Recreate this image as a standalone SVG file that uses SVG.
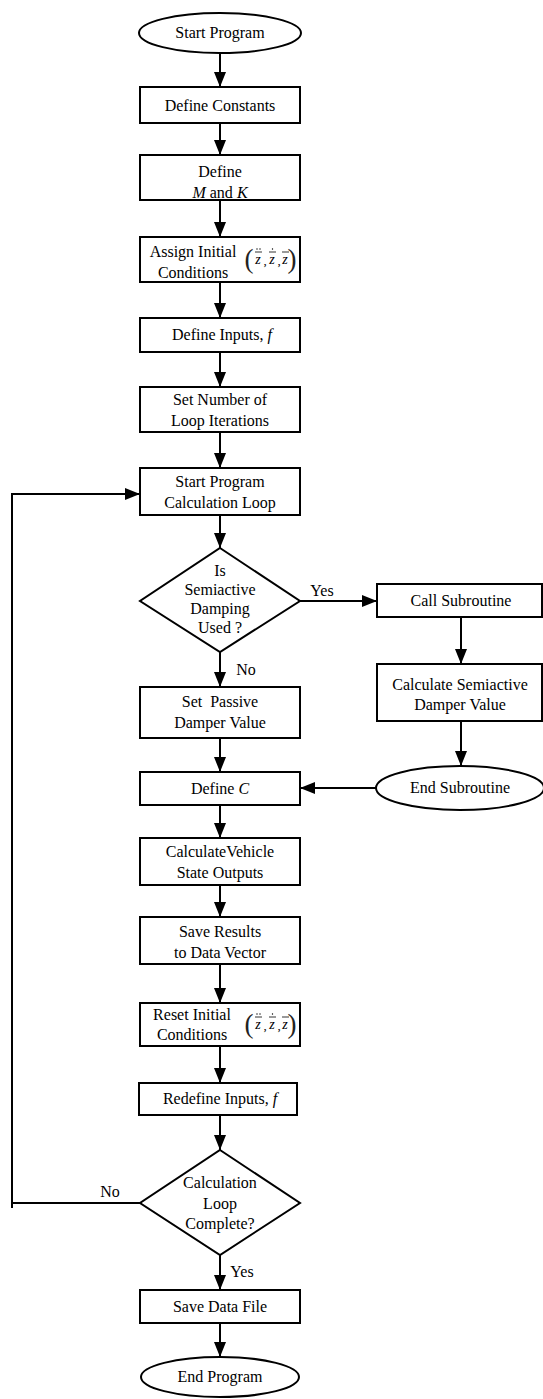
<svg xmlns="http://www.w3.org/2000/svg" width="543" height="1399" viewBox="0 0 543 1399">
<style>
text{font-family:"Liberation Serif","Times New Roman",serif;font-size:16px;fill:#000;text-anchor:middle}
.s{fill:#fff;stroke:#000;stroke-width:2}
.c{fill:none;stroke:#000;stroke-width:2}
.i{font-style:italic}
.z{font-style:italic;font-size:14px}
.p{font-size:27px;fill:#222}
.m{fill:none;stroke:#000;stroke-width:0.8}
</style>
<defs>
<marker id="a" markerUnits="userSpaceOnUse" markerWidth="15" markerHeight="12" refX="15" refY="6" orient="auto"><path d="M0,0 L15,6 L0,12 z" fill="#000"/></marker>
<g id="zf">
<text x="-21" y="9" class="p">(</text>
<text x="-12" y="5" class="z">z</text>
<text x="-5" y="6" style="font-size:13px">,</text>
<text x="2" y="5" class="z">z</text>
<text x="9" y="6" style="font-size:13px">,</text>
<text x="15" y="5" class="z">z</text>
<text x="22" y="9" class="p">)</text>
<path class="m" d="M-15,-7 h7 M-1,-7 h7 M12,-7 h7"/>
<circle cx="-13" cy="-10" r="0.7"/><circle cx="-10" cy="-10" r="0.7"/>
<circle cx="2.5" cy="-10" r="0.7"/>
</g>
</defs>
<g id="connectors">
<path class="c" marker-end="url(#a)" d="M220,53 V87"/>
<path class="c" marker-end="url(#a)" d="M220,123 V155"/>
<path class="c" marker-end="url(#a)" d="M220,200 V237"/>
<path class="c" marker-end="url(#a)" d="M220,282 V318"/>
<path class="c" marker-end="url(#a)" d="M220,352 V387"/>
<path class="c" marker-end="url(#a)" d="M220,432 V468"/>
<path class="c" marker-end="url(#a)" d="M220,515 V548"/>
<path class="c" marker-end="url(#a)" d="M300,601 H377"/>
<path class="c" marker-end="url(#a)" d="M461,617 V664"/>
<path class="c" marker-end="url(#a)" d="M461,721 V766"/>
<path class="c" marker-end="url(#a)" d="M377,788 H300"/>
<path class="c" marker-end="url(#a)" d="M220,652 V687"/>
<path class="c" marker-end="url(#a)" d="M220,738 V772"/>
<path class="c" marker-end="url(#a)" d="M220,805 V838"/>
<path class="c" marker-end="url(#a)" d="M220,885 V917"/>
<path class="c" marker-end="url(#a)" d="M220,964 V1003"/>
<path class="c" marker-end="url(#a)" d="M220,1046 V1083"/>
<path class="c" marker-end="url(#a)" d="M220,1115 V1150"/>
<path class="c" marker-end="url(#a)" d="M220,1255 V1290"/>
<path class="c" marker-end="url(#a)" d="M220,1323 V1357"/>
<path class="c" marker-end="url(#a)" d="M140,1203 H12 V494 H140"/>
<path class="c" d="M12,1202 V1208"/>
<text x="322" y="596">Yes</text>
<text x="246" y="675">No</text>
<text x="110" y="1197">No</text>
<text x="242" y="1277">Yes</text>
</g>
<g id="start"><ellipse class="s" cx="220" cy="33" rx="81" ry="20"/><text x="220" y="38">Start Program</text></g>
<g id="constants"><rect class="s" x="140" y="87" width="160" height="36"/><text x="220" y="111">Define Constants</text></g>
<g id="mk"><rect class="s" x="140" y="155" width="160" height="45"/><text x="220" y="177">Define</text><text x="220" y="198"><tspan class="i">M</tspan> and <tspan class="i">K</tspan></text></g>
<g id="assign"><rect class="s" x="140" y="237" width="160" height="45"/><text x="193" y="257">Assign Initial</text><text x="193" y="278">Conditions</text><use href="#zf" x="270" y="259"/></g>
<g id="inputs"><rect class="s" x="140" y="318" width="160" height="34"/><text x="222" y="340">Define Inputs, <tspan class="i">f</tspan></text></g>
<g id="iterations"><rect class="s" x="140" y="387" width="160" height="45"/><text x="220" y="405">Set Number of</text><text x="220" y="426">Loop Iterations</text></g>
<g id="loop"><rect class="s" x="140" y="468" width="160" height="47"/><text x="220" y="487">Start Program</text><text x="220" y="508">Calculation Loop</text></g>
<g id="semiactive"><polygon class="s" points="220,548 300,601 220,652 140,601"/><text x="220" y="576">Is</text><text x="220" y="595">Semiactive</text><text x="220" y="614">Damping</text><text x="220" y="633">Used ?</text></g>
<g id="callsub"><rect class="s" x="377" y="584" width="165" height="33"/><text x="461" y="606">Call Subroutine</text></g>
<g id="calcsemi"><rect class="s" x="377" y="664" width="165" height="57"/><text x="460" y="690">Calculate Semiactive</text><text x="460" y="710">Damper Value</text></g>
<g id="endsub"><ellipse class="s" cx="460" cy="788" rx="84" ry="22"/><text x="460" y="793">End Subroutine</text></g>
<g id="passive"><rect class="s" x="140" y="687" width="160" height="51"/><text x="220" y="707" xml:space="preserve">Set  Passive</text><text x="220" y="728">Damper Value</text></g>
<g id="definec"><rect class="s" x="140" y="772" width="160" height="33"/><text x="220" y="794">Define <tspan class="i">C</tspan></text></g>
<g id="vehicle"><rect class="s" x="140" y="838" width="160" height="47"/><text x="220" y="857">CalculateVehicle</text><text x="220" y="878">State Outputs</text></g>
<g id="saveresults"><rect class="s" x="140" y="917" width="160" height="47"/><text x="220" y="937">Save Results</text><text x="220" y="958">to Data Vector</text></g>
<g id="reset"><rect class="s" x="140" y="1003" width="160" height="43"/><text x="192" y="1020">Reset Initial</text><text x="192" y="1040">Conditions</text><use href="#zf" x="270" y="1024"/></g>
<g id="redefine"><rect class="s" x="139" y="1083" width="158" height="32"/><text x="220" y="1104">Redefine Inputs, <tspan class="i">f</tspan></text></g>
<g id="complete"><polygon class="s" points="220,1150 300,1203 220,1255 140,1203"/><text x="220" y="1188">Calculation</text><text x="220" y="1209">Loop</text><text x="220" y="1229">Complete?</text></g>
<g id="savefile"><rect class="s" x="140" y="1290" width="160" height="33"/><text x="220" y="1312">Save Data File</text></g>
<g id="end"><ellipse class="s" cx="220" cy="1377" rx="79" ry="20"/><text x="220" y="1382">End Program</text></g>
</svg>
